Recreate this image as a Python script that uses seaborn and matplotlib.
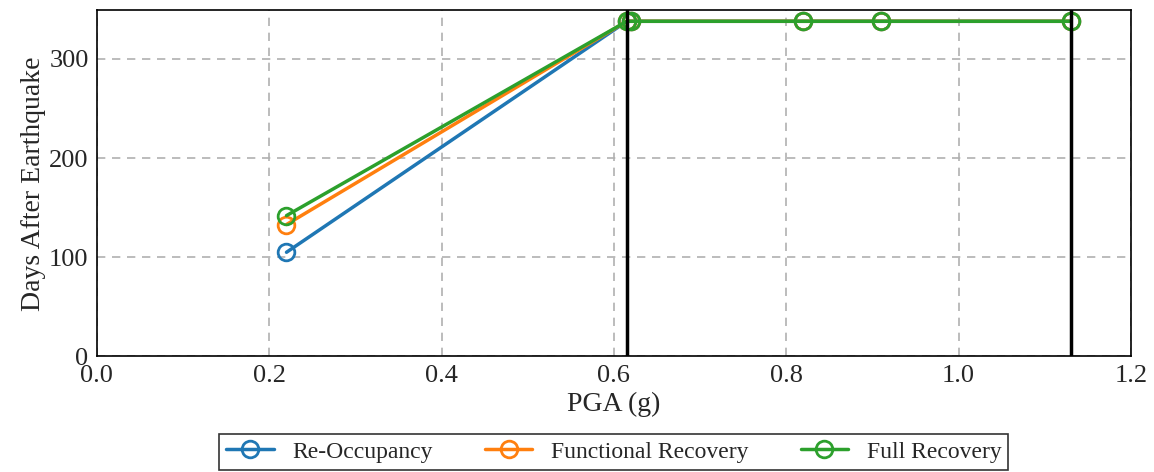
import matplotlib
matplotlib.use("Agg")
import matplotlib.pyplot as plt
import seaborn as sns
import pandas as pd

pga = [0.22, 0.615, 0.62, 0.82, 0.91, 1.13]
re_occupancy = [105, 338, 338, 338, 338, 338]
functional_recovery = [133, 338, 338, 338, 338, 338]
full_recovery = [142, 338, 338, 338, 338, 338]
series_names = ["Re-Occupancy", "Functional Recovery", "Full Recovery"]
vlines_x = [0.615, 1.13]

sns.set_theme(style="ticks")
plt.rcParams['font.family'] = ['Liberation Serif', 'DejaVu Serif']

colors = ["#1f77b4", "#ff7f0e", "#2ca02c"]
fig, ax = plt.subplots(figsize=(11.54, 4.72), dpi=100)
fig.subplots_adjust(left=0.084, right=0.98, top=0.978, bottom=0.245)

for name, vals, c in zip(series_names, [re_occupancy, functional_recovery, full_recovery], colors):
    df = pd.DataFrame({"x": pga, "y": vals})
    sns.lineplot(data=df, x="x", y="y", ax=ax, color=c, linewidth=2.5, marker="o",
                 markersize=12, markerfacecolor="none", markeredgecolor=c,
                 markeredgewidth=2, label=name)

for xv in vlines_x:
    ax.axvline(xv, color="black", linewidth=2.5, zorder=5)

ax.set_xlim(0, 1.2)
ax.set_ylim(0, 349)
ax.set_xticks([0.0, 0.2, 0.4, 0.6, 0.8, 1.0, 1.2])
ax.set_xticklabels(["0.0", "0.2", "0.4", "0.6", "0.8", "1.0", "1.2"])
ax.set_yticks([0, 100, 200, 300])
ax.grid(True, linestyle=(0, (5, 4)), color="#b0b0b0", linewidth=1.2)
ax.tick_params(labelsize=19, length=0, pad=6)
ax.set_xlabel("PGA (g)", fontsize=20, labelpad=4)
ax.set_ylabel("Days After Earthquake", fontsize=20, labelpad=2)
for s in ax.spines.values():
    s.set_color("black")
    s.set_linewidth(1.2)

leg = ax.legend(loc="upper center", bbox_to_anchor=(0.5, -0.19), ncol=3, fontsize=17,
                frameon=True, fancybox=False, edgecolor="black", handlelength=2.0,
                columnspacing=2.2, borderpad=0.3)
leg.get_frame().set_linewidth(1.2)

fig.savefig("out.png", dpi=100)
